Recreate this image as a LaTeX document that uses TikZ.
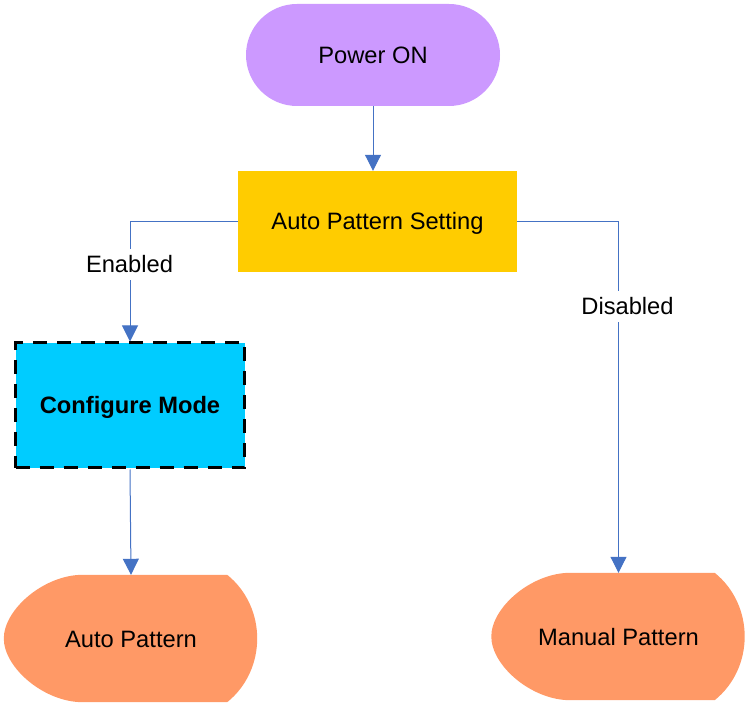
\documentclass[tikz,border=0pt]{standalone}
\usepackage{fontspec}
\setmainfont{Liberation Sans}
\usetikzlibrary{arrows.meta,calc,backgrounds}
\definecolor{pwr}{HTML}{CC99FF}
\definecolor{aps}{HTML}{FFCC00}
\definecolor{cfg}{HTML}{00CCFF}
\definecolor{outc}{HTML}{FF9966}
\definecolor{lnblue}{HTML}{4472C4}
\newcommand\dispfill[2]{%
  \fill[#2] ($(#1.north west)+(79,0)$) -- ($(#1.north east)+(-31,0)$)
    .. controls ($(#1.north east)+(9,32.3)$) and ($(#1.south east)+(9,-32.3)$) .. ($(#1.south east)+(-31,0)$)
    -- ($(#1.south west)+(79,0)$)
    .. controls ($(#1.south west)+(40,0)$) and ($(#1.west)+(0,29)$) .. (#1.west)
    .. controls ($(#1.west)+(0,-29)$) and ($(#1.north west)+(40,0)$) .. cycle;}
\begin{document}
\begin{tikzpicture}[x=1pt,y=-1pt,
  every node/.style={font=\fontsize{23.7}{28}\selectfont, text height=17pt, text depth=0pt, inner sep=0pt},
  conn/.style={draw=lnblue, line width=1pt, -{Triangle[length=16pt,width=16pt]}},
  lbl/.style={fill=white, inner xsep=2pt, inner ysep=7pt},
  terminal/.style={fill=pwr, minimum width=254pt, minimum height=102pt, rounded corners=51pt},
  process/.style={fill=aps, minimum width=279pt, minimum height=101pt},
  mode/.style={fill=cfg, draw=black, line width=3pt, dash pattern=on 14pt off 10pt, minimum width=229pt, minimum height=125pt, font=\fontsize{23.7}{28}\selectfont\bfseries},
  display/.style={minimum width=254pt, minimum height=127pt}]
\useasboundingbox (0,0) rectangle (745,703);
\node[terminal] (po) at (373,55) {Power ON};
\node[process] (aps) at (377.5,221.5) {Auto Pattern Setting};
\node[mode] (cm) at (130,405.5) {Configure Mode};
\node[display] (ap) at (131,638.5) {Auto Pattern};
\node[display] (mp) at (618.5,636.5) {Manual Pattern};
\begin{scope}[on background layer]
  \dispfill{ap}{outc}
  \dispfill{mp}{outc}
\end{scope}
\draw[conn] (po.south) -- (po.south |- aps.north);
\draw[conn] (aps.west) -| (cm.north);
\draw[conn] (cm.south) -- (ap.north);
\draw[conn] (aps.east) -| (mp.north);
\node[lbl] (en) at (129.5,264.5) {Enabled};
\node[lbl] (dis) at (627.5,306.5) {Disabled};
\end{tikzpicture}
\end{document}
